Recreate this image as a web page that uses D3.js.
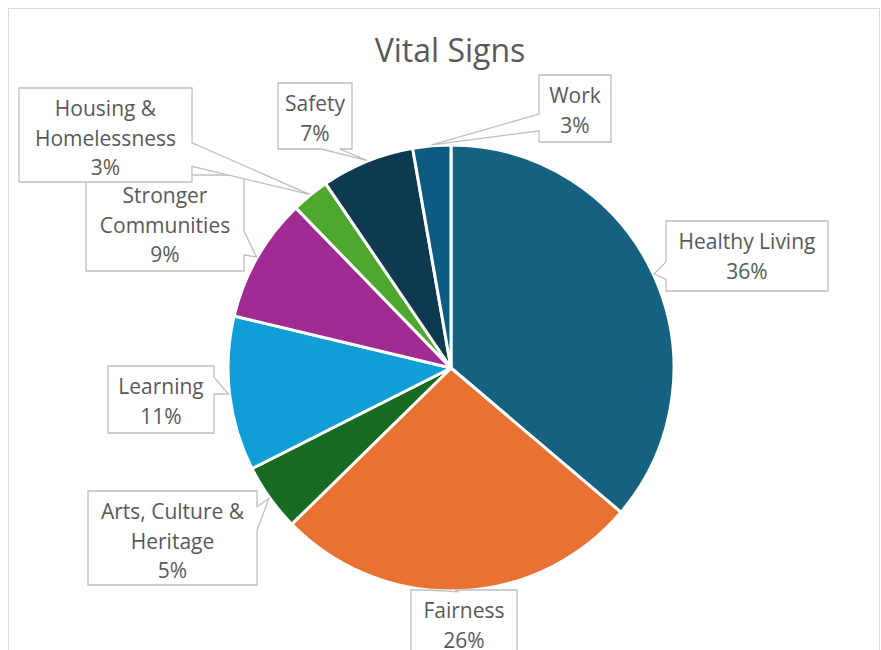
<!DOCTYPE html>
<html>
<head>
<meta charset="utf-8">
<script src="https://cdn.jsdelivr.net/npm/d3@7"></script>
<style>
  html, body { margin: 0; padding: 0; background: #fff; }
  svg { display: block; }
  text { font-family: "Open Sans", "Lato", sans-serif; fill: #595959; }
</style>
</head>
<body>
<svg id="chart" width="881" height="650"></svg>
<script>
// ---- data ----
const title = "Vital Signs";
const categories = ["Healthy Living", "Fairness", "Arts, Culture & Heritage", "Learning",
                    "Stronger Communities", "Housing & Homelessness", "Safety", "Work"];
const values = [36.2, 26.45, 4.9, 11.2, 9.0, 2.75, 6.75, 2.75];
const colors = ["#166080", "#E97132", "#196B24", "#0F9ED5", "#A02B93", "#4EA72E", "#0E3A50", "#0C5B80"];

// ---- layout of the callout boxes (x, y, w, h, side of the wedge) ----
const calloutLayout = [
  { x: 666, y: 221, w: 162, h: 70, side: "left" },
  { x: 411, y: 590, w: 106, h: 80, side: "top" },
  { x: 88,  y: 491, w: 169, h: 94, side: "right" },
  { x: 108, y: 366, w: 106, h: 67, side: "right" },
  { x: 86,  y: 175, w: 158, h: 96, side: "right" },
  { x: 19,  y: 88,  w: 173, h: 94, side: "right" },
  { x: 278, y: 83,  w: 74,  h: 66, side: "bottom" },
  { x: 539, y: 75,  w: 72,  h: 67, side: "left" }
];

const svg = d3.select("#chart");
const cx = 451, cy = 368, R = 223;

// chart frame
svg.append("rect").attr("x", 8.5).attr("y", 8.5).attr("width", 871).attr("height", 700)
  .attr("fill", "#fff").attr("stroke", "#d9d9d9").attr("stroke-width", 1);

// title
svg.append("text").attr("x", 450).attr("y", 62).attr("text-anchor", "middle")
  .style("font-size", "32px").text(title);

const total = d3.sum(values);
const data = categories.map((c, i) => ({ name: c, value: values[i], color: colors[i], pct: Math.round(values[i] / total * 100) }));

const pie = d3.pie().value(d => d.value).sort(null).startAngle(0).endAngle(2 * Math.PI);
const arcs = pie(data);
const arc = d3.arc().innerRadius(0).outerRadius(R);

const g = svg.append("g").attr("transform", `translate(${cx},${cy})`);
g.selectAll("path").data(arcs).enter().append("path")
  .attr("d", arc)
  .attr("fill", d => d.data.color)
  .attr("stroke", "#fff").attr("stroke-width", 3).attr("stroke-linejoin", "round");

// callouts
const labels = svg.append("g");
arcs.forEach((a, i) => {
  const L = calloutLayout[i];
  const mid = (a.startAngle + a.endAngle) / 2;
  const tx = cx + Math.sin(mid) * (R + 1);
  const ty = cy - Math.cos(mid) * (R + 1);
  const x0 = L.x, y0 = L.y, x1 = L.x + L.w, y1 = L.y + L.h;
  const bcx = (x0 + x1) / 2, bcy = (y0 + y1) / 2;
  let p;
  if (L.side === "left" || L.side === "right") {
    const below = ty > bcy;
    const a1 = y0 + L.h * (below ? 7 / 12 : 2 / 12);
    const a2 = y0 + L.h * (below ? 10 / 12 : 5 / 12);
    if (L.side === "left") {
      p = [[x0, y0], [x1, y0], [x1, y1], [x0, y1], [x0, a2], [tx, ty], [x0, a1]];
    } else {
      p = [[x0, y0], [x1, y0], [x1, a1], [tx, ty], [x1, a2], [x1, y1], [x0, y1]];
    }
  } else {
    const right = tx > bcx;
    const a1 = x0 + L.w * (right ? 7 / 12 : 2 / 12);
    const a2 = x0 + L.w * (right ? 10 / 12 : 5 / 12);
    if (L.side === "top") {
      p = [[x0, y0], [a1, y0], [tx, ty], [a2, y0], [x1, y0], [x1, y1], [x0, y1]];
    } else {
      p = [[x0, y0], [x1, y0], [x1, y1], [a2, y1], [tx, ty], [a1, y1], [x0, y1]];
    }
  }
  labels.append("path")
    .attr("d", "M" + p.map(q => q[0] + "," + q[1]).join("L") + "Z")
    .attr("fill", "#fff").attr("stroke", "#bfbfbf").attr("stroke-width", 1.3)
    .attr("stroke-linejoin", "miter");

  // wrap text into lines
  const t = labels.append("text").attr("text-anchor", "middle").style("font-size", "21px");
  const maxW = L.w - 8;
  const words = a.data.name.split(" ");
  const lines = [];
  let cur = "";
  words.forEach(wd => {
    const test = cur ? cur + " " + wd : wd;
    t.text(test);
    if (t.node().getComputedTextLength() > maxW && cur) { lines.push(cur); cur = wd; }
    else cur = test;
  });
  lines.push(cur);
  lines.push(a.data.pct + "%");
  t.text(null);
  lines.forEach((ln, k) => {
    t.append("tspan").attr("x", bcx).attr("y", y0 + 21 + k * 29.5)
      .attr("dy", "0.35em").text(ln);
  });
});
</script>
</body>
</html>
